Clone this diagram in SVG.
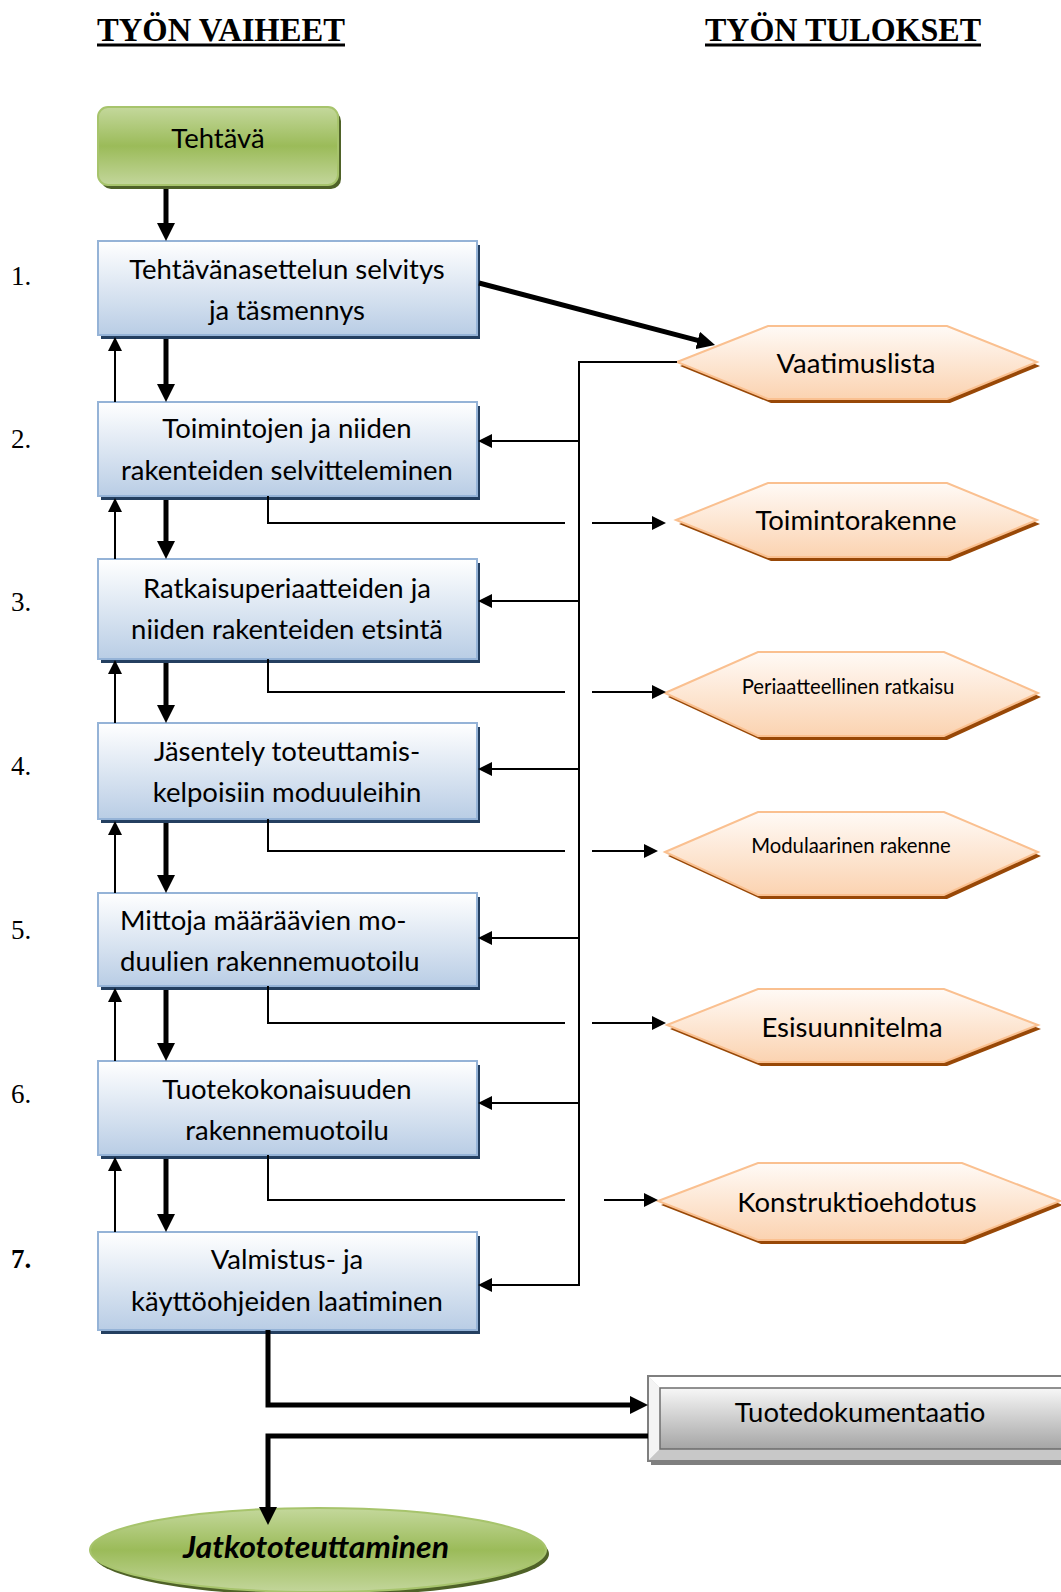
<svg xmlns="http://www.w3.org/2000/svg" width="1061" height="1592" viewBox="0 0 1061 1592">
<style>
.t{font-family:Lato,"Noto Sans",sans-serif;font-size:27.5px;fill:#000;text-anchor:middle}
.ts{font-size:20.3px}
.num{font-family:"Liberation Serif",serif;font-size:27px;fill:#000}
.title{font-family:"Liberation Serif",serif;font-weight:bold;font-size:33px;fill:#000}
.box{fill:url(#gBlue);stroke:#95b3d7;stroke-width:2}
.boxsh{fill:#243f60}
.hex{fill:url(#gOrange);stroke:#fac090;stroke-width:2}
.hexsh{fill:#984807}
.thin{fill:none;stroke:#000;stroke-width:2}
.thick{fill:none;stroke:#000;stroke-width:5}
</style>
<defs>
<linearGradient id="gBlue" x1="0" y1="0" x2="0" y2="1"><stop offset="0" stop-color="#ffffff"/><stop offset="1" stop-color="#b9cde5"/></linearGradient>
<linearGradient id="gOrange" x1="0" y1="0" x2="0" y2="1"><stop offset="0" stop-color="#fffaf6"/><stop offset="1" stop-color="#fbd3b1"/></linearGradient>
<linearGradient id="gGreen" x1="0" y1="0" x2="0" y2="1"><stop offset="0" stop-color="#c4d89c"/><stop offset="0.5" stop-color="#9bbb59"/><stop offset="1" stop-color="#c3d69b"/></linearGradient>
<linearGradient id="gGray" x1="0" y1="0" x2="0" y2="1"><stop offset="0" stop-color="#f7f7f7"/><stop offset="1" stop-color="#a5a5a5"/></linearGradient>
<marker id="aThick" markerUnits="userSpaceOnUse" markerWidth="18" markerHeight="18" viewBox="0 0 18 18" refX="1" refY="9" orient="auto"><path d="M0,0 L18,9 L0,18 z" fill="#000"/></marker>
<marker id="aThin" markerUnits="userSpaceOnUse" markerWidth="14" markerHeight="14" viewBox="0 0 14 14" refX="1" refY="7" orient="auto"><path d="M0,0 L14,7 L0,14 z" fill="#000"/></marker>
</defs>
<rect width="1061" height="1592" fill="#fff"/>

<g id="titles">
<text class="title" x="97" y="41" textLength="248" lengthAdjust="spacingAndGlyphs">TYÖN VAIHEET</text>
<rect x="97" y="43.5" width="248" height="3" fill="#000"/>
<text class="title" x="705" y="41" textLength="276" lengthAdjust="spacingAndGlyphs">TYÖN TULOKSET</text>
<rect x="705" y="43.5" width="276" height="3" fill="#000"/>
</g>

<g id="numbers">
<text class="num" x="11" y="285">1.</text>
<text class="num" x="11" y="448">2.</text>
<text class="num" x="11" y="611">3.</text>
<text class="num" x="11" y="775">4.</text>
<text class="num" x="11" y="939">5.</text>
<text class="num" x="11" y="1103">6.</text>
<text class="num" x="11" y="1268" font-weight="bold">7.</text>
</g>

<g id="tehtava">
<rect x="101" y="111" width="240" height="78" rx="10" fill="#4f6228"/>
<rect x="98" y="107" width="240" height="78" rx="10" fill="url(#gGreen)" stroke="#a7c46c" stroke-width="2"/>
<text class="t" x="218" y="148">Tehtävä</text>
</g>

<g id="step1">
<rect class="boxsh" x="101" y="245" width="379" height="94"/>
<rect class="box" x="98" y="241" width="379" height="94"/>
<text class="t" x="287" y="279">Tehtävänasettelun selvitys</text>
<text class="t" x="287" y="320">ja täsmennys</text>
</g>
<g id="step2">
<rect class="boxsh" x="101" y="406" width="379" height="94"/>
<rect class="box" x="98" y="402" width="379" height="94"/>
<text class="t" x="287" y="438">Toimintojen ja niiden</text>
<text class="t" x="287" y="480">rakenteiden selvitteleminen</text>
</g>
<g id="step3">
<rect class="boxsh" x="101" y="563" width="379" height="100"/>
<rect class="box" x="98" y="559" width="379" height="100"/>
<text class="t" x="287" y="598">Ratkaisuperiaatteiden ja</text>
<text class="t" x="287" y="639">niiden rakenteiden etsintä</text>
</g>
<g id="step4">
<rect class="boxsh" x="101" y="727" width="379" height="96"/>
<rect class="box" x="98" y="723" width="379" height="96"/>
<text class="t" x="287" y="761">Jäsentely toteuttamis-</text>
<text class="t" x="287" y="802">kelpoisiin moduuleihin</text>
</g>
<g id="step5">
<rect class="boxsh" x="101" y="897" width="379" height="93"/>
<rect class="box" x="98" y="893" width="379" height="93"/>
<text class="t" x="120" y="930" style="text-anchor:start">Mittoja määräävien mo-</text>
<text class="t" x="120" y="971" style="text-anchor:start">duulien rakennemuotoilu</text>
</g>
<g id="step6">
<rect class="boxsh" x="101" y="1065" width="379" height="94"/>
<rect class="box" x="98" y="1061" width="379" height="94"/>
<text class="t" x="287" y="1099">Tuotekokonaisuuden</text>
<text class="t" x="287" y="1140">rakennemuotoilu</text>
</g>
<g id="step7">
<rect class="boxsh" x="101" y="1236" width="379" height="98"/>
<rect class="box" x="98" y="1232" width="379" height="98"/>
<text class="t" x="287" y="1269">Valmistus- ja</text>
<text class="t" x="287" y="1311">käyttöohjeiden laatiminen</text>
</g>

<g id="vaatimuslista">
<polygon class="hexsh" points="680,366 771,330 950,330 1040,366 950,403 771,403"/>
<polygon class="hex" points="677,362 768,326 947,326 1037,362 947,399 768,399"/>
<text class="t" x="856" y="373">Vaatimuslista</text>
</g>
<g id="toimintorakenne">
<polygon class="hexsh" points="679,524 771,487 950,487 1040,524 950,561 771,561"/>
<polygon class="hex" points="676,520 768,483 947,483 1037,520 947,557 768,557"/>
<text class="t" x="856" y="530">Toimintorakenne</text>
</g>
<g id="periaatteellinen">
<polygon class="hexsh" points="668,697 761,656 947,656 1041,697 947,740 761,740"/>
<polygon class="hex" points="665,693 758,652 944,652 1038,693 944,736 758,736"/>
<text class="t ts" x="848" y="694">Periaatteellinen ratkaisu</text>
</g>
<g id="modulaarinen">
<polygon class="hexsh" points="668,856 761,816 947,816 1041,856 947,899 761,899"/>
<polygon class="hex" points="665,852 758,812 944,812 1038,852 944,895 758,895"/>
<text class="t ts" x="851" y="853">Modulaarinen rakenne</text>
</g>
<g id="esisuunnitelma">
<polygon class="hexsh" points="670,1029 761,993 947,993 1041,1029 947,1066 761,1066"/>
<polygon class="hex" points="667,1025 758,989 944,989 1038,1025 944,1062 758,1062"/>
<text class="t" x="852" y="1037">Esisuunnitelma</text>
</g>
<g id="konstruktioehdotus">
<polygon class="hexsh" points="661,1205 761,1167 965,1167 1063,1205 965,1244 761,1244"/>
<polygon class="hex" points="658,1201 758,1163 962,1163 1060,1201 962,1240 758,1240"/>
<text class="t" x="857" y="1212">Konstruktioehdotus</text>
</g>

<g id="tuotedokumentaatio">
<rect x="651" y="1380" width="420" height="85" fill="#7f7f7f"/>
<rect x="648" y="1376" width="420" height="85" fill="#d0d0d0" stroke="#7f7f7f" stroke-width="2"/>
<polygon points="648,1376 1068,1376 1068,1388 660,1388" fill="#ffffff"/>
<polygon points="648,1376 660,1388 660,1449 648,1461" fill="#f4f4f4"/>
<polygon points="648,1461 660,1449 1068,1449 1068,1461" fill="#c8c8c8"/>
<rect x="648" y="1376" width="420" height="85" fill="none" stroke="#7f7f7f" stroke-width="2"/>
<rect x="660" y="1388" width="410" height="61" fill="url(#gGray)" stroke="#6d6d6d" stroke-width="1.5"/>
<text class="t" x="860" y="1422">Tuotedokumentaatio</text>
</g>

<g id="jatkototeuttaminen">
<ellipse cx="321" cy="1554" rx="228" ry="42" fill="#4f6228"/>
<ellipse cx="318" cy="1550" rx="228" ry="42" fill="url(#gGreen)" stroke="#a7c46c" stroke-width="2"/>
<text class="t" x="316" y="1558" font-weight="bold" font-style="italic" style="font-size:30px" textLength="266" lengthAdjust="spacingAndGlyphs">Jatkototeuttaminen</text>
</g>

<g id="connectors">
<path class="thick" d="M166,189 V224" marker-end="url(#aThick)"/>
<path class="thick" d="M166,339 V385" marker-end="url(#aThick)"/>
<path class="thick" d="M166,500 V542" marker-end="url(#aThick)"/>
<path class="thick" d="M166,663 V706" marker-end="url(#aThick)"/>
<path class="thick" d="M166,823 V876" marker-end="url(#aThick)"/>
<path class="thick" d="M166,990 V1044" marker-end="url(#aThick)"/>
<path class="thick" d="M166,1159 V1215" marker-end="url(#aThick)"/>

<path class="thin" d="M115,402 V350" marker-end="url(#aThin)"/>
<path class="thin" d="M115,559 V511" marker-end="url(#aThin)"/>
<path class="thin" d="M115,723 V673" marker-end="url(#aThin)"/>
<path class="thin" d="M115,893 V834" marker-end="url(#aThin)"/>
<path class="thin" d="M115,1061 V1001" marker-end="url(#aThin)"/>
<path class="thin" d="M115,1232 V1170" marker-end="url(#aThin)"/>

<path class="thick" d="M479,283 L698.6,340.7" marker-end="url(#aThick)"/>

<path class="thin" d="M677,362 H579 V1285 H491" marker-end="url(#aThin)"/>
<path class="thin" d="M579,441 H491" marker-end="url(#aThin)"/>
<path class="thin" d="M579,601 H491" marker-end="url(#aThin)"/>
<path class="thin" d="M579,769 H491" marker-end="url(#aThin)"/>
<path class="thin" d="M579,938 H491" marker-end="url(#aThin)"/>
<path class="thin" d="M579,1103 H491" marker-end="url(#aThin)"/>

<path class="thin" d="M268,496 V523 H565"/>
<path class="thin" d="M592,523 H653" marker-end="url(#aThin)"/>
<path class="thin" d="M268,659 V692 H565"/>
<path class="thin" d="M592,692 H653" marker-end="url(#aThin)"/>
<path class="thin" d="M268,819 V851 H565"/>
<path class="thin" d="M592,851 H645" marker-end="url(#aThin)"/>
<path class="thin" d="M268,986 V1023 H565"/>
<path class="thin" d="M592,1023 H653" marker-end="url(#aThin)"/>
<path class="thin" d="M268,1155 V1200 H565"/>
<path class="thin" d="M604,1200 H645" marker-end="url(#aThin)"/>

<path class="thick" d="M268,1330 V1405 H631" marker-end="url(#aThick)"/>
<path class="thick" d="M648,1436 H268 V1508" marker-end="url(#aThick)"/>
</g>
</svg>
